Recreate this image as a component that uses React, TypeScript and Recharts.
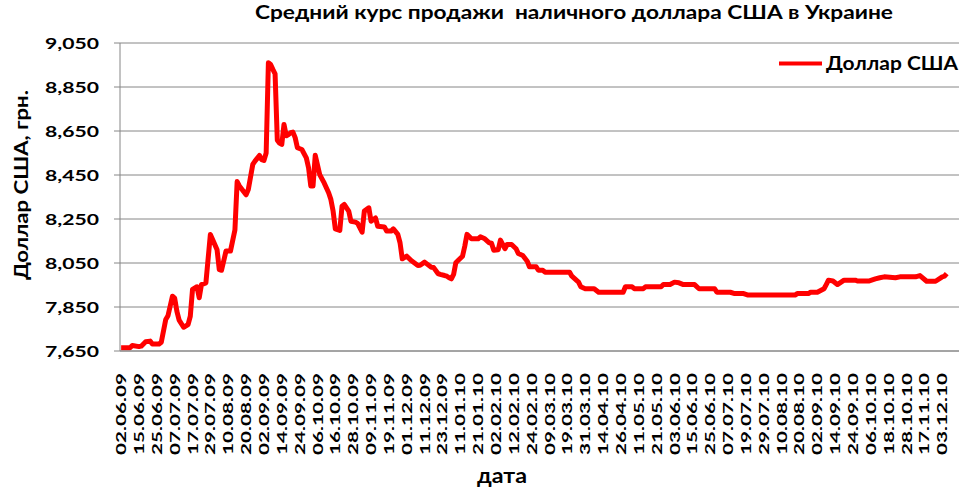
import { CartesianGrid, Line, LineChart, XAxis, YAxis } from "recharts";

// every 8th trading day is labelled on the category axis
const xLabels = [
  "02.06.09", "15.06.09", "25.06.09", "07.07.09", "17.07.09", "29.07.09",
  "10.08.09", "20.08.09", "02.09.09", "14.09.09", "24.09.09", "06.10.09",
  "16.10.09", "28.10.09", "09.11.09", "19.11.09", "01.12.09", "11.12.09",
  "23.12.09", "11.01.10", "21.01.10", "02.02.10", "12.02.10", "24.02.10",
  "09.03.10", "19.03.10", "31.03.10", "14.04.10", "26.04.10", "11.05.10",
  "21.05.10", "03.06.10", "15.06.10", "25.06.10", "07.07.10", "19.07.10",
  "29.07.10", "10.08.10", "20.08.10", "02.09.10", "14.09.10", "24.09.10",
  "06.10.10", "18.10.10", "28.10.10", "17.11.10", "03.12.10",
];
const xTickDays = xLabels.map((_, i) => i * 8);
const yTicks = [7.65, 7.85, 8.05, 8.25, 8.45, 8.65, 8.85, 9.05];

// [trading day, UAH per USD]
const summer2009: [number, number][] = [
  [0, 7.665], [4, 7.665], [5, 7.675], [8, 7.67], [9, 7.672], [11, 7.692],
  [13, 7.695], [14, 7.682], [17, 7.682], [18, 7.69], [20, 7.793], [21, 7.81],
  [23, 7.899], [24, 7.89], [25, 7.83], [26, 7.79], [28, 7.758], [30, 7.77],
  [31, 7.808], [32, 7.93], [34, 7.942], [35, 7.892], [36, 7.952], [38, 7.96],
  [40, 8.18], [41, 8.157], [43, 8.11], [44, 8.02], [45, 8.017], [47, 8.104],
  [49, 8.104], [51, 8.2], [52, 8.42], [53, 8.4], [56, 8.36], [57, 8.384],
  [59, 8.498], [60, 8.513], [62, 8.539], [63, 8.52], [64, 8.516], [65, 8.55],
];
const autumn2009: [number, number][] = [
  [66, 8.96], [67, 8.952], [68, 8.93], [69, 8.91], [70, 8.608], [71, 8.595],
  [72, 8.589], [73, 8.68], [74, 8.628], [75, 8.634], [76, 8.642], [77, 8.645],
  [78, 8.62], [79, 8.574], [81, 8.566], [83, 8.528], [84, 8.483], [85, 8.4],
  [86, 8.4], [87, 8.54], [89, 8.452], [91, 8.414], [93, 8.369], [94, 8.339],
  [95, 8.286], [96, 8.205], [98, 8.198], [99, 8.308], [100, 8.316], [102, 8.286],
  [103, 8.24], [105, 8.236], [106, 8.23], [108, 8.19], [109, 8.286], [111, 8.301],
  [112, 8.24], [114, 8.255], [115, 8.217], [118, 8.214], [119, 8.195], [121, 8.195],
  [122, 8.205], [124, 8.18], [125, 8.142], [126, 8.069], [128, 8.081], [130, 8.061],
  [133, 8.039], [134, 8.04], [136, 8.054], [139, 8.031], [140, 8.03], [142, 8.002],
];
const winter2010: [number, number][] = [
  [143, 7.998], [145, 7.993], [146, 7.99], [147, 7.983], [148, 7.978], [149, 7.998],
  [150, 8.051], [151, 8.061], [153, 8.081], [154, 8.126], [155, 8.18], [157, 8.16],
  [160, 8.16], [161, 8.169], [163, 8.16], [165, 8.142], [166, 8.14], [167, 8.108],
  [169, 8.11], [170, 8.154], [172, 8.115], [173, 8.134], [175, 8.134], [177, 8.115],
  [178, 8.093], [180, 8.084], [182, 8.058], [183, 8.033], [186, 8.033], [187, 8.017],
  [189, 8.017], [190, 8.008], [201, 8.008], [202, 7.99], [205, 7.963], [206, 7.942],
  [208, 7.933], [212, 7.933], [214, 7.917],
];
const rest2010: [number, number][] = [
  [225, 7.917], [226, 7.942], [229, 7.942], [230, 7.933], [234, 7.933], [235, 7.942],
  [242, 7.942], [243, 7.952], [246, 7.952], [248, 7.963], [250, 7.96], [252, 7.952],
  [257, 7.952], [259, 7.933], [266, 7.933], [267, 7.917], [273, 7.917], [275, 7.911],
  [279, 7.911], [281, 7.904], [302, 7.904], [303, 7.911], [308, 7.911], [309, 7.917],
  [312, 7.917], [315, 7.933], [316, 7.952], [317, 7.972], [319, 7.968], [321, 7.952],
  [324, 7.972], [329, 7.972], [330, 7.968], [335, 7.968], [338, 7.978], [340, 7.983],
  [342, 7.987], [347, 7.983], [349, 7.987], [356, 7.987], [358, 7.993], [361, 7.967],
  [365, 7.967], [368, 7.987], [369, 7.99], [370, 8.002],
];

const chartData = [...summer2009, ...autumn2009, ...winter2010, ...rest2010].map(
  ([day, rate]) => ({ day, rate })
);

const FONT = "Lato, 'Open Sans', sans-serif";
const GRID = "#868686";

const formatRate = (v: number) => v.toFixed(3).replace(".", ",");

const DateTick = ({ x, y, payload }: any) => (
  <text
    x={x}
    y={y}
    dy="0.36em"
    transform={`rotate(-90, ${x}, ${y})`}
    textAnchor="end"
    fontFamily={FONT}
    fontWeight={700}
    fontSize={14}
    fill="#000"
    textLength={82}
    lengthAdjust="spacingAndGlyphs"
  >
    {xLabels[Math.round(payload.value / 8)] ?? ""}
  </text>
);

const RateTick = ({ x, y, payload }: any) => (
  <text
    x={x}
    y={y + 6}
    textAnchor="end"
    fontFamily={FONT}
    fontWeight={700}
    fontSize={15.5}
    fill="#000"
    textLength={54}
    lengthAdjust="spacingAndGlyphs"
  >
    {formatRate(payload.value)}
  </text>
);

export default function App() {
  return (
    <div style={{ position: "absolute", left: 0, top: 0, width: 963, height: 489, background: "#fff" }}>
      <LineChart
        width={963}
        height={489}
        data={chartData}
        margin={{ top: 43, right: 4, bottom: 0, left: 0 }}
      >
        <CartesianGrid vertical={false} stroke={GRID} />
        <XAxis
          dataKey="day"
          type="number"
          domain={[-0.5, 375.5]}
          ticks={xTickDays}
          interval={0}
          height={138}
          tickLine={false}
          tickSize={0}
          tickMargin={22}
          axisLine={{ stroke: GRID }}
          tick={<DateTick />}
        />
        <YAxis
          type="number"
          domain={[7.65, 9.05]}
          ticks={yTicks}
          interval={0}
          width={120}
          tickSize={6}
          tickMargin={15}
          tickLine={{ stroke: GRID }}
          axisLine={{ stroke: GRID }}
          tick={<RateTick />}
        />
        <Line
          type="linear"
          dataKey="rate"
          stroke="#ff0000"
          strokeWidth={5}
          strokeLinejoin="round"
          dot={false}
          isAnimationActive={false}
        />
      </LineChart>
      <svg
        width={963}
        height={489}
        style={{ position: "absolute", left: 0, top: 0, pointerEvents: "none" }}
      >
        <text
          x={574}
          y={19}
          textAnchor="middle"
          fontFamily={FONT}
          fontWeight={700}
          fontSize={19.5}
          textLength={638}
          lengthAdjust="spacingAndGlyphs"
          xmlSpace="preserve"
        >
          Средний курс продажи  наличного доллара США в Украине
        </text>
        <text
          x={28}
          y={185}
          transform="rotate(-90, 28, 185)"
          textAnchor="middle"
          fontFamily={FONT}
          fontWeight={700}
          fontSize={19}
          textLength={190}
          lengthAdjust="spacingAndGlyphs"
        >
          Доллар США, грн.
        </text>
        <text
          x={502}
          y={483}
          textAnchor="middle"
          fontFamily={FONT}
          fontWeight={700}
          fontSize={20}
          textLength={50}
          lengthAdjust="spacingAndGlyphs"
        >
          дата
        </text>
        <line x1={779} x2={822} y1={63.5} y2={63.5} stroke="#ff0000" strokeWidth={4} />
        <text
          x={826}
          y={70}
          fontFamily={FONT}
          fontWeight={700}
          fontSize={18.5}
          textLength={132}
          lengthAdjust="spacingAndGlyphs"
        >
          Доллар США
        </text>
      </svg>
    </div>
  );
}
